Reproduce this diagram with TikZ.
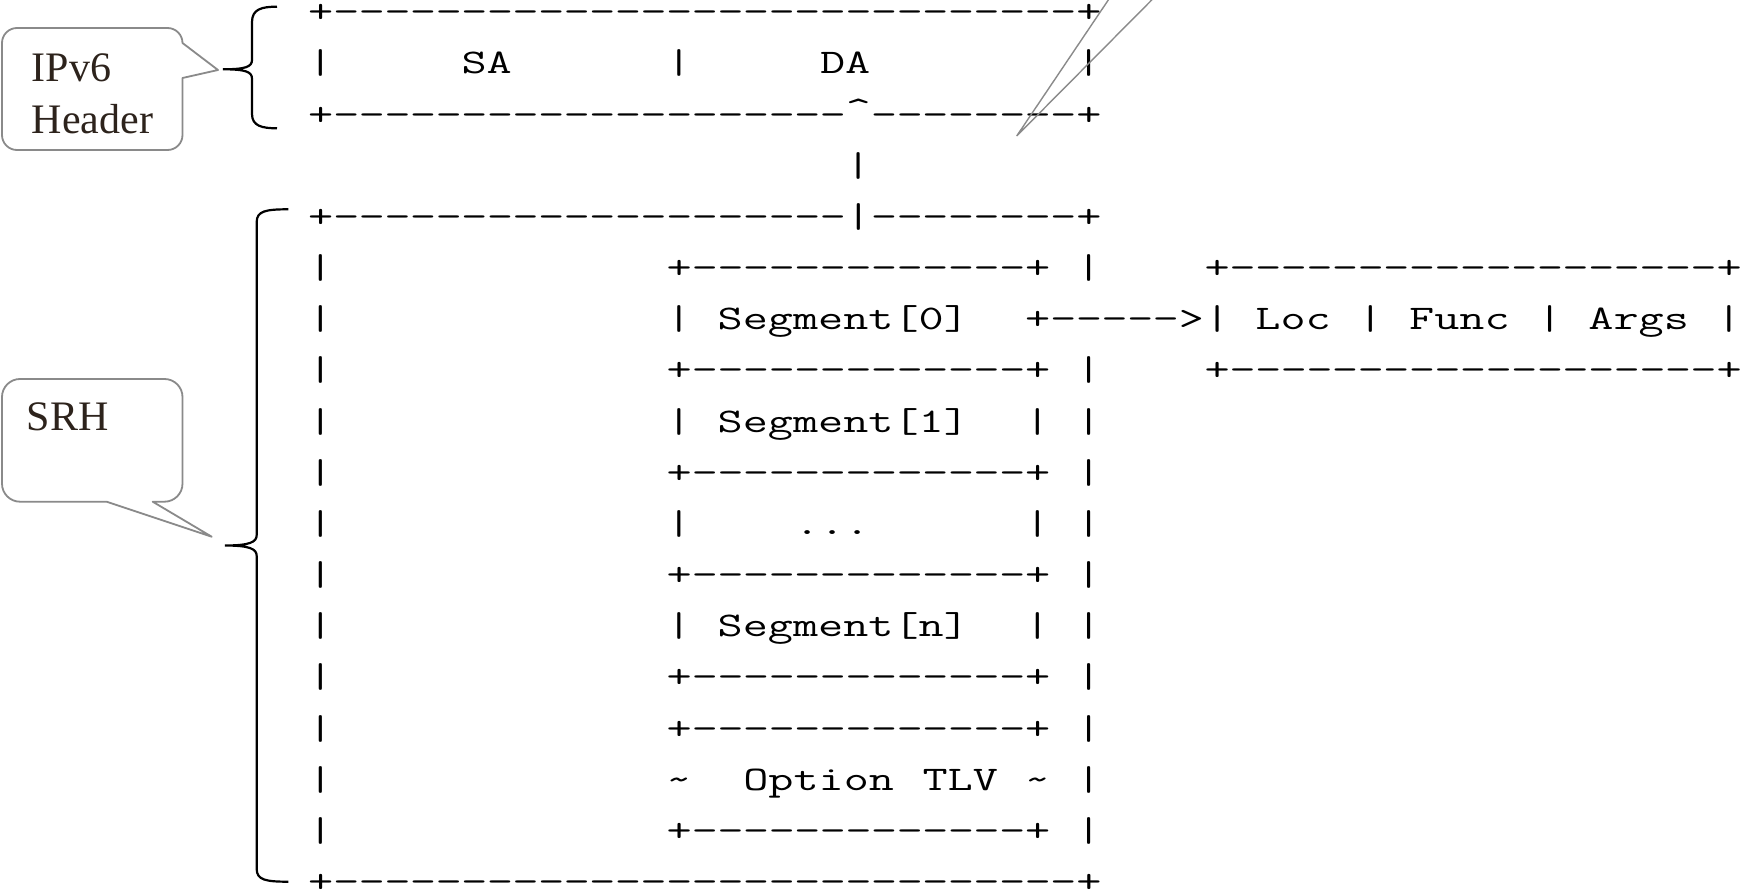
\documentclass[tikz,border=0pt]{standalone}
\usepackage{fontspec}
\usepackage{graphicx}
\newfontfamily\calloutfont{Liberation Serif}
\newcommand\asciifont{\ttfamily\fontsize{34.5pt}{40pt}\selectfont}
\newcommand\cell[1]{\makebox[0.525em][c]{#1}}
\ExplSyntaxOn
\NewDocumentCommand\dsh{m}{\prg_replicate:nn{#1}{\cell{\scalebox{1.05}[1]{-}}}}
\ExplSyntaxOff
\definecolor{calloutgray}{RGB}{138,138,138}
\definecolor{callouttext}{RGB}{45,35,28}
\tikzset{
  asc/.style={inner sep=0pt, outer sep=0pt, anchor=base west, font=\asciifont},
  callout/.style={draw=calloutgray, line width=1.8pt, fill=white, line join=round},
  calltext/.style={inner sep=0pt, anchor=base west, font=\calloutfont\fontsize{42pt}{45pt}\selectfont, text=callouttext},
  bracepath/.style={draw=black, line width=2.2pt},
}
\newcommand\pa[3]{\node[asc] (r#2c#1) at ({307.9+25.61*#1},{22.84+51.16*#2}) {\scalebox{1.414}[1]{#3}};}
\begin{document}
\begin{tikzpicture}[x=1pt,y=-1pt]
\useasboundingbox (0,0) rectangle (1748,893);
\fill[white] (0,0) rectangle (1748,893);
% ASCII art
\pa{0}{0}{\cell{+}\dsh{29}\cell{+}}
\pa{0}{1}{|}\pa{6}{1}{SA}\pa{14}{1}{|}\pa{20}{1}{DA}\pa{30}{1}{|}
\pa{0}{2}{\cell{+}\dsh{20}\cell{\raisebox{5pt}{\textasciicircum}}\dsh{8}\cell{+}}
\pa{21}{3}{|}
\pa{0}{4}{\cell{+}\dsh{20}\cell{|}\dsh{8}\cell{+}}
\pa{0}{5}{|}\pa{14}{5}{\cell{+}\dsh{13}\cell{+}}\pa{30}{5}{|}\pa{35}{5}{\cell{+}\dsh{19}\cell{+}}
\pa{0}{6}{|}\pa{14}{6}{|}\pa{16}{6}{Segment[0]}\pa{28}{6}{\cell{+}\dsh{5}\cell{>}\cell{|}}
\pa{37}{6}{Loc}\pa{41}{6}{|}\pa{43}{6}{Func}\pa{48}{6}{|}\pa{50}{6}{Args}\pa{55}{6}{|}
\pa{0}{7}{|}\pa{14}{7}{\cell{+}\dsh{13}\cell{+}}\pa{30}{7}{|}\pa{35}{7}{\cell{+}\dsh{19}\cell{+}}
\pa{0}{8}{|}\pa{14}{8}{|}\pa{16}{8}{Segment[1]}\pa{28}{8}{|}\pa{30}{8}{|}
\pa{0}{9}{|}\pa{14}{9}{\cell{+}\dsh{13}\cell{+}}\pa{30}{9}{|}
\pa{0}{10}{|}\pa{14}{10}{|}\pa{19}{10}{...}\pa{28}{10}{|}\pa{30}{10}{|}
\pa{0}{11}{|}\pa{14}{11}{\cell{+}\dsh{13}\cell{+}}\pa{30}{11}{|}
\pa{0}{12}{|}\pa{14}{12}{|}\pa{16}{12}{Segment[n]}\pa{28}{12}{|}\pa{30}{12}{|}
\pa{0}{13}{|}\pa{14}{13}{\cell{+}\dsh{13}\cell{+}}\pa{30}{13}{|}
\pa{0}{14}{|}\pa{14}{14}{\cell{+}\dsh{13}\cell{+}}\pa{30}{14}{|}
\pa{0}{15}{|}\pa{14}{15}{\textasciitilde}\pa{17}{15}{Option}\pa{24}{15}{TLV}\pa{28}{15}{\textasciitilde}\pa{30}{15}{|}
\pa{0}{16}{|}\pa{14}{16}{\cell{+}\dsh{13}\cell{+}}\pa{30}{16}{|}
\pa{0}{17}{\cell{+}\dsh{29}\cell{+}}
% braces
\draw[bracepath] (277,6.7) .. controls (262,6.7) and (252,9) .. (252,22) -- (252,60)
  .. controls (252,67) and (245,69.3) .. (223,69.3)
  .. controls (245,69.3) and (252,71.6) .. (252,78.6) -- (252,114)
  .. controls (252,126) and (262,128.3) .. (277,128.3);
\draw[bracepath] (288.3,209.3) .. controls (266,209.3) and (256.7,211) .. (256.7,222) -- (256.7,535)
  .. controls (256.7,542) and (250,545.5) .. (225,545.5)
  .. controls (250,545.5) and (256.7,549) .. (256.7,556) -- (256.7,869)
  .. controls (256.7,880) and (266,881.7) .. (288.3,881.7);
% callout 1
\draw[callout] (17,28) -- (167.5,28) .. controls (175.8,28) and (182.5,34.7) .. (182.5,43)
  -- (218,70) -- (182.5,78) -- (182.5,135)
  .. controls (182.5,143.3) and (175.8,150) .. (167.5,150) -- (17,150)
  .. controls (8.7,150) and (2,143.3) .. (2,135) -- (2,43)
  .. controls (2,34.7) and (8.7,28) .. (17,28) -- cycle;
\node[calltext] (ipv6) at (31.7,81.7) {IPv6};
\node[calltext] (hdr) at (31.7,134) {Header};
% callout 2
\draw[callout] (20,379) -- (164.5,379) .. controls (174.4,379) and (182.5,387.1) .. (182.5,397)
  -- (182.5,483.7) .. controls (182.5,493.6) and (174.4,501.7) .. (164.5,501.7)
  -- (152.7,501.7) -- (211.7,536.7) -- (106.7,501.7) -- (20,501.7)
  .. controls (10.1,501.7) and (2,493.6) .. (2,483.7) -- (2,397)
  .. controls (2,387.1) and (10.1,379) .. (20,379) -- cycle;
\node[calltext] (srh) at (26.7,430) {SRH};
% callout 3 pointer (body outside the picture)
\begin{scope}
\clip (0,0) rectangle (1748,893);
\coordinate (tip3) at (1016.7,136);
\draw[calloutgray, line width=1.4pt, line join=miter] (1128.5,-30) -- (tip3) -- (1181.5,-30);
\end{scope}
\end{tikzpicture}
\end{document}
